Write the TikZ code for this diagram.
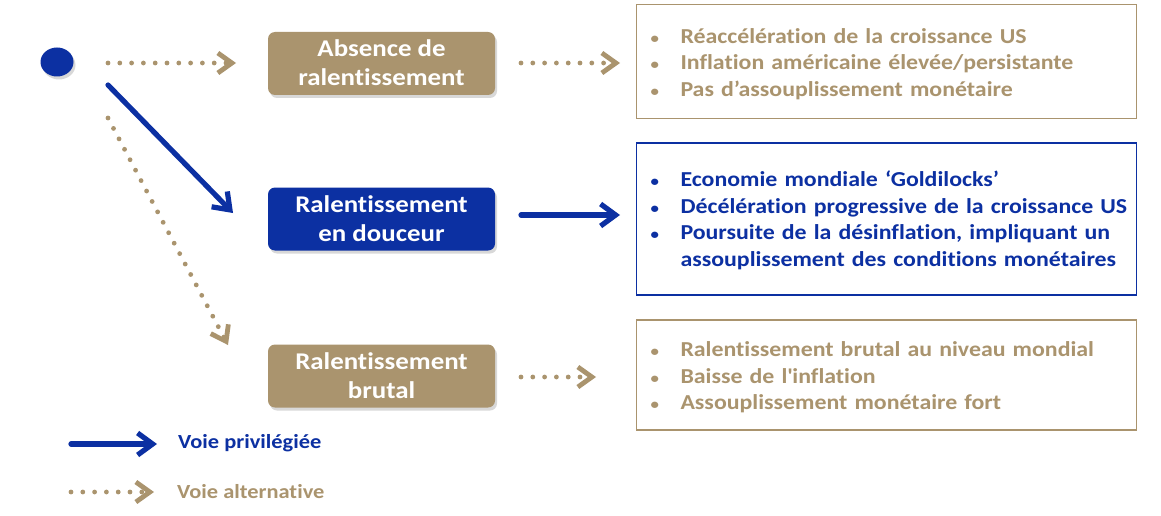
\documentclass[tikz,border=0pt]{standalone}
\usepackage{fontspec}
\setmainfont[FakeStretch=1.12, Ligatures={NoCommon}]{Carlito}
\usetikzlibrary{arrows.meta,shadows,shapes.geometric}
\definecolor{gold}{RGB}{170,148,110}
\definecolor{navy}{RGB}{12,48,162}
\newcommand{\bul}{{\fontsize{15}{15}\selectfont •}}
\newcommand{\lowered}[2]{\raisebox{-#1}[\height][\depth]{#2}}
\begin{document}
\begin{tikzpicture}[x=1pt,y=-1pt,
  shadowed/.style={drop shadow={opacity=0.3, shadow xshift=2pt, shadow yshift=-3pt}},
  lbox/.style={rounded corners=7pt, minimum width=227pt, minimum height=63pt, inner sep=0pt,
    align=center, text=white, font=\fontsize{24}{29}\selectfont\bfseries, shadowed},
  rbox/.style={draw=#1, line width=1.1pt, minimum width=500pt, inner xsep=14pt, inner ysep=0pt,
    text width=472pt, align=left, text=#1, font=\fontsize{21.3}{26.6}\selectfont\bfseries},
  altpath/.style={draw=gold, line width=4.8pt, line cap=round, dash pattern=on 0pt off 11.8pt,
    -{Straight Barb[length=14pt,width=20pt,line width=4.8pt]}},
  mainpath/.style={draw=navy, line width=5.2pt, line cap=round,
    -{Straight Barb[length=15pt,width=22pt,line width=5.2pt]}},
  legtext/.style={anchor=west, inner sep=0pt, font=\fontsize{20}{24}\selectfont\bfseries}
]
\useasboundingbox[fill=white] (0,0) rectangle (1161,516);

% start dot
\node[ellipse, fill=navy, minimum width=33pt, minimum height=29pt, inner sep=0pt, shadowed] (dot) at (57,62) {};

% scenario boxes
\node[lbox, fill=gold] (b1) at (381.5,63.5) {\lowered{1.5pt}{\begin{tabular}{@{}c@{}}Absence de\\ralentissement\end{tabular}}};
\node[lbox, fill=navy] (b2) at (381.5,219) {\lowered{2.5pt}{\begin{tabular}{@{}c@{}}Ralentissement\\en douceur\end{tabular}}};
\node[lbox, fill=gold] (b3) at (381.5,376) {\lowered{2pt}{\begin{tabular}{@{}c@{}}Ralentissement\\brutal\end{tabular}}};

% outcome boxes
\node[rbox=gold, minimum height=114pt] (r1) at (886.5,61.5) {\lowered{3pt}{%
  \begin{tabular}{@{}p{30pt}@{}l@{}}
  \bul & Réaccélération de la croissance US\\
  \bul & Inflation américaine élevée/persistante\\
  \bul & Pas d’assouplissement monétaire
  \end{tabular}}};
\node[rbox=navy, minimum height=152pt] (r2) at (886.5,219) {\lowered{2pt}{%
  \begin{tabular}{@{}p{30pt}@{}l@{}}
  \bul & Economie mondiale ‘Goldilocks’\\
  \bul & Décélération progressive de la croissance US\\
  \bul & Poursuite de la désinflation, impliquant un\\
    & assouplissement des conditions monétaires
  \end{tabular}}};
\node[rbox=gold, minimum height=110pt] (r3) at (886.5,375) {\lowered{3pt}{%
  \begin{tabular}{@{}p{30pt}@{}l@{}}
  \bul & Ralentissement brutal au niveau mondial\\
  \bul & Baisse de l\textquotesingle inflation\\
  \bul & Assouplissement monétaire fort
  \end{tabular}}};

% connector end points
\coordinate (s1) at (108,63);   \coordinate (e1) at (236,63);
\coordinate (s2) at (108,85);   \coordinate (e2) at (233,213);
\coordinate (s3) at (108,118);  \coordinate (e3) at (228,345);
\coordinate (t1) at (521,63);   \coordinate (u1) at (620,63);
\coordinate (t2) at (521,215);  \coordinate (u2) at (620,215);
\coordinate (t3) at (521,377);  \coordinate (u3) at (596,377);

\draw[altpath] (s1) -- (e1);
\draw[mainpath] (s2) -- (e2);
\draw[altpath] (s3) -- (e3);
\draw[altpath] (t1) -- (u1);
\draw[mainpath] (t2) -- (u2);
\draw[altpath] (t3) -- (u3);

% legend
\coordinate (l1s) at (71,444); \coordinate (l1e) at (157,444);
\coordinate (l2s) at (71,492); \coordinate (l2e) at (154,492);
\draw[mainpath] (l1s) -- (l1e);
\draw[altpath] (l2s) -- (l2e);
\node[legtext, text=navy] (lg1) at (178,443) {Voie privilégiée};
\node[legtext, text=gold] (lg2) at (177,492) {Voie alternative};
\end{tikzpicture}
\end{document}
